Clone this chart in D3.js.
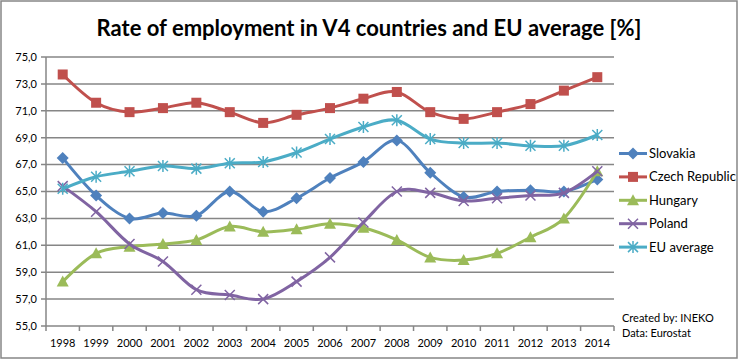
<!DOCTYPE html>
<html><head><meta charset="utf-8">
<script src="https://cdn.jsdelivr.net/npm/d3@7"></script>
<style>body{margin:0;background:#fff}svg{display:block}text{font-family:Lato,"Open Sans",sans-serif}</style>
</head><body><div id="chart"></div>
<script>
const years = ["1998","1999","2000","2001","2002","2003","2004","2005","2006","2007","2008","2009","2010","2011","2012","2013","2014"];
const slovakia = [67.5,64.7,63.0,63.4,63.2,65.0,63.5,64.5,66.0,67.2,68.8,66.4,64.6,65.0,65.1,65.0,65.9];
const czech    = [73.7,71.6,70.9,71.2,71.6,70.9,70.1,70.7,71.2,71.9,72.4,70.9,70.4,70.9,71.5,72.5,73.5];
const hungary  = [58.3,60.4,60.9,61.1,61.4,62.4,62.0,62.2,62.6,62.3,61.4,60.1,59.9,60.4,61.6,63.0,66.5];
const poland   = [65.4,63.5,61.1,59.8,57.7,57.3,57.0,58.3,60.1,62.7,65.0,64.9,64.3,64.5,64.7,64.9,66.5];
const euAvg    = [65.2,66.1,66.5,66.9,66.7,67.1,67.2,67.9,68.9,69.8,70.3,68.9,68.6,68.6,68.4,68.4,69.2];
const seriesNames = ["Slovakia","Czech Republic","Hungary","Poland","EU average"];
const yTicks = [55,57,59,61,63,65,67,69,71,73,75];
const titleText = "Rate of employment in V4 countries and EU average [%]";

const W = 739, H = 360;
const series = [
  {name: seriesNames[0], values: slovakia, color: "#4F81BD", marker: "diamond"},
  {name: seriesNames[1], values: czech,    color: "#C0504D", marker: "square"},
  {name: seriesNames[2], values: hungary,  color: "#9BBB59", marker: "triangle"},
  {name: seriesNames[3], values: poland,   color: "#8064A2", marker: "x"},
  {name: seriesNames[4], values: euAvg,    color: "#4BACC6", marker: "star"}
];
const svg = d3.select("#chart").append("svg").attr("width", W).attr("height", H);
svg.append("rect").attr("x",1).attr("y",1).attr("width",736).attr("height",357)
  .attr("fill","#fff").attr("stroke","#868686").attr("stroke-width",1.5);

const x = d3.scaleBand().domain(years).range([46, 614]);
const y = d3.scaleLinear().domain([55, 75]).range([326, 57]);

svg.append("g").selectAll("line").data(yTicks).join("line")
  .attr("x1", 41).attr("x2", 614).attr("y1", d => y(d)).attr("y2", d => y(d))
  .attr("stroke", "#868686").attr("stroke-width", 1.5);
svg.append("line").attr("x1",46).attr("x2",46).attr("y1",y(75)).attr("y2",y(55))
  .attr("stroke","#868686").attr("stroke-width",1.5);
svg.append("g").selectAll("text").data(yTicks).join("text")
  .attr("x", 37).attr("y", d => y(d)).attr("dy","0.35em").attr("text-anchor","end")
  .attr("font-size", 11).attr("fill","#000")
  .text(d => d3.format(".1f")(d).replace(".", ","));
const bounds = years.map(d => x(d)).concat([x.range()[1]]);
svg.append("g").selectAll("line").data(bounds).join("line")
  .attr("x1", d => d).attr("x2", d => d).attr("y1", y(55)).attr("y2", y(55)+5)
  .attr("stroke","#868686").attr("stroke-width",1.5);
svg.append("g").selectAll("text").data(years).join("text")
  .attr("x", d => x(d) + x.bandwidth()/2).attr("y", 343).attr("dy","0.35em")
  .attr("text-anchor","middle").attr("font-size", 11).attr("fill","#000").text(d => d);

svg.append("text").attr("x", 369).attr("y", 28).attr("dy","0.35em").attr("text-anchor","middle")
  .attr("font-size", 22).attr("font-weight","bold").attr("fill","#000").text(titleText);

const cx = i => x(years[i]) + x.bandwidth()/2;
const line = d3.line().x((d,i) => cx(i)).y(d => y(d)).curve(d3.curveCatmullRom.alpha(0));

function marker(g, type, color, px, py) {
  const s = 5;
  if (type === "diamond") {
    g.append("path").attr("d", `M${px},${py-s-1}L${px+s+1},${py}L${px},${py+s+1}L${px-s-1},${py}Z`).attr("fill", color);
  } else if (type === "square") {
    g.append("rect").attr("x", px-s).attr("y", py-s).attr("width", 2*s).attr("height", 2*s).attr("fill", color);
  } else if (type === "triangle") {
    g.append("path").attr("d", `M${px},${py-s-1}L${px+s+1},${py+s}L${px-s-1},${py+s}Z`).attr("fill", color);
  } else if (type === "x") {
    g.append("path").attr("d", `M${px-s},${py-s}L${px+s},${py+s}M${px-s},${py+s}L${px+s},${py-s}`).attr("stroke", color).attr("stroke-width", 1.5);
  } else if (type === "star") {
    g.append("path").attr("d", `M${px-s},${py-s}L${px+s},${py+s}M${px-s},${py+s}L${px+s},${py-s}M${px},${py-s-1}L${px},${py+s+1}`).attr("stroke", color).attr("stroke-width", 1.5);
  }
}

series.forEach(s => {
  const g = svg.append("g");
  g.append("path").attr("d", line(s.values)).attr("fill","none").attr("stroke", s.color).attr("stroke-width", 3);
  s.values.forEach((v, i) => marker(g, s.marker, s.color, cx(i), y(v)));
});

const leg = svg.append("g");
series.forEach((s, i) => {
  const ly = 153.5 + i * 23.4;
  leg.append("line").attr("x1", 619).attr("x2", 647).attr("y1", ly).attr("y2", ly).attr("stroke", s.color).attr("stroke-width", 3);
  marker(leg, s.marker, s.color, 633, ly);
  leg.append("text").attr("x", 649).attr("y", ly).attr("dy","0.35em").attr("font-size", 13).attr("fill","#000").text(s.name);
});
svg.append("text").attr("x", 622).attr("y", 318).attr("dy","0.35em").attr("font-size", 11).attr("fill","#000").text("Created by: INEKO");
svg.append("text").attr("x", 622).attr("y", 333).attr("dy","0.35em").attr("font-size", 11).attr("fill","#000").text("Data: Eurostat");
</script></body></html>
